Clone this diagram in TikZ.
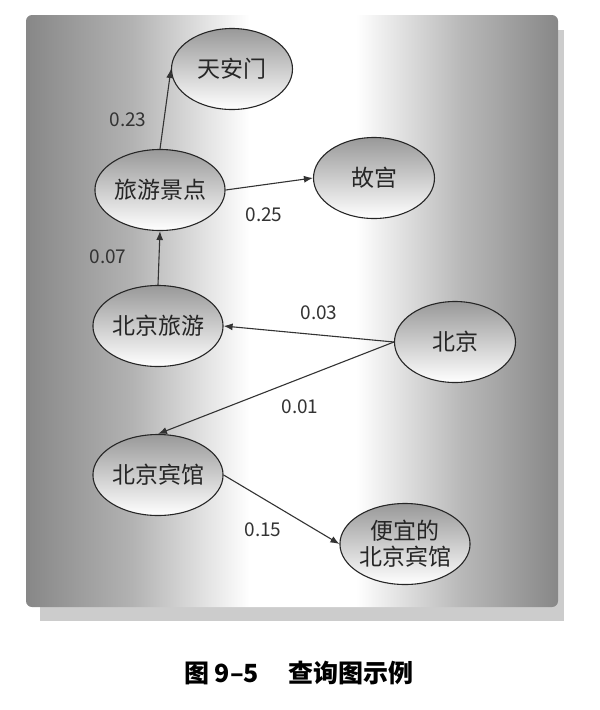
\documentclass[tikz,border=0pt]{standalone}
\usepackage{fontspec}
\setmainfont{Noto Sans CJK SC}
\newfontfamily\cjk{Noto Sans CJK SC}
\usetikzlibrary{shapes.geometric,arrows.meta}
\pgfdeclarehorizontalshading{panelshade}{100bp}{color(0bp)=(black!47); color(25bp)=(black!47); color(35bp)=(black!30); color(46bp)=(white); color(56bp)=(white); color(66bp)=(black!28); color(75bp)=(black!47); color(100bp)=(black!47)}
\begin{document}
\begin{tikzpicture}[x=1pt,y=-1pt,
  state/.style={ellipse,draw=black!85,line width=1.1pt,minimum width=121pt,minimum height=81pt,inner sep=0pt,
    top color=black!40,bottom color=white,font=\cjk\fontsize{23}{26}\selectfont,text=black!85,align=center},
  wt/.style={font=\cjk\fontsize{19}{22}\selectfont,text=black!80,inner sep=0pt},
  link/.style={draw=black!80,line width=1.1pt,-{Latex[length=9pt,width=7pt]}}]
\useasboundingbox (0,0) rectangle (600,710);
\fill[black!20] (40,30) rectangle (564,621);
\shade[shading=panelshade,rounded corners=6pt] (26,15) rectangle (558,607);
% nodes
\node[state] (tam) at (232,69) {天安门};
\node[state] (lv) at (160,190) {旅游景点};
\node[state] (gg) at (374,178) {故宫};
\node[state] (bjly) at (158,326) {北京旅游};
\node[state] (bj) at (455,342) {北京};
\node[state] (bjbg) at (158,475) {北京宾馆};
\node[state] (cheap) at (405,544) {便宜的\\北京宾馆};
% links
\draw[link] (lv.north) -- (tam.west);
\draw[link] (lv.east) -- (gg.west);
\draw[link] (bjly.north) -- (lv.south);
\draw[link] (bj.west) -- (bjly.east);
\draw[link] (bj.west) -- (bjbg.north);
\draw[link] (bjbg.east) -- (cheap.west);
% weights
\node[wt] (w1) at (128,120) {0.23};
\node[wt] (w2) at (264,215) {0.25};
\node[wt] (w3) at (108,257) {0.07};
\node[wt] (w4) at (319,313) {0.03};
\node[wt] (w5) at (300,407) {0.01};
\node[wt] (w6) at (263,530) {0.15};
% caption
\node[font=\cjk\bfseries\fontsize{25}{28}\selectfont,text=black] (cap) at (299,673) {图 9–5\hspace{1.2em}查询图示例};
\end{tikzpicture}
\end{document}
